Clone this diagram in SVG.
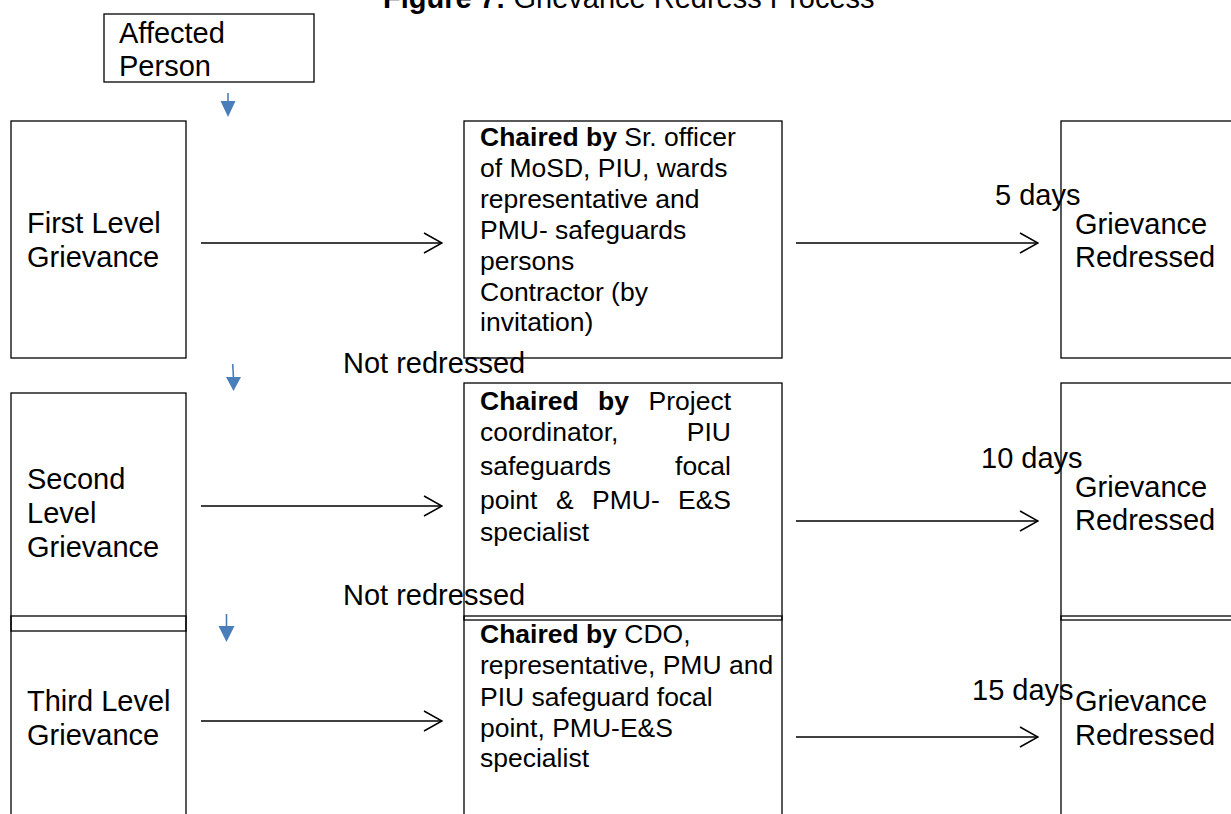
<svg xmlns="http://www.w3.org/2000/svg" width="1231" height="814" viewBox="0 0 1231 814">
<style>
  text { font-family: "Liberation Sans", Arial, sans-serif; fill: #000; }
  .t29 { font-size: 29px; }
  .t26 { font-size: 26.5px; }
  .b { font-weight: bold; }
  .box { fill: none; stroke: #000; stroke-width: 1.3; }
  .conn { stroke: #000; stroke-width: 1.5; fill: none; marker-end: url(#chev); }
  .blue { stroke: #4a7ebb; stroke-width: 1.6; fill: none; }
  .bluehead { fill: #4a7ebb; }
</style>
<defs>
  <marker id="chev" viewBox="0 0 20 22" refX="19" refY="11" markerWidth="20" markerHeight="22" markerUnits="userSpaceOnUse" orient="auto">
    <path d="M1,1 L19,11 L1,21" fill="none" stroke="#000" stroke-width="1.5"/>
  </marker>
</defs>
<rect x="0" y="0" width="1231" height="814" fill="#fff"/>

<g id="title">
  <text class="t29" x="383" y="8"><tspan class="b">Figure 7:</tspan> Grievance Redress Process</text>
</g>

<g id="affected-person">
  <rect class="box" x="104" y="14" width="210" height="68"/>
  <text class="t29" x="119" y="43">Affected</text>
  <text class="t29" x="119" y="76">Person</text>
</g>

<g id="first-level">
  <rect class="box" x="11" y="121" width="175" height="237"/>
  <text class="t29" x="27" y="233">First Level</text>
  <text class="t29" x="27" y="267">Grievance</text>
</g>

<g id="first-committee">
  <rect class="box" x="464" y="121" width="318" height="237"/>
  <text class="t26" x="480" y="146"><tspan class="b">Chaired by</tspan> Sr. officer</text>
  <text class="t26" x="480" y="177">of MoSD, PIU, wards</text>
  <text class="t26" x="480" y="208">representative and</text>
  <text class="t26" x="480" y="239">PMU- safeguards</text>
  <text class="t26" x="480" y="270">persons</text>
  <text class="t26" x="480" y="301">Contractor (by</text>
  <text class="t26" x="480" y="331">invitation)</text>
</g>

<g id="first-redressed">
  <rect class="box" x="1061" y="121" width="190" height="237"/>
  <text class="t29" x="1075" y="234">Grievance</text>
  <text class="t29" x="1075" y="267">Redressed</text>
</g>

<g id="second-level">
  <rect class="box" x="11" y="393" width="175" height="238"/>
  <text class="t29" x="27" y="489">Second</text>
  <text class="t29" x="27" y="523">Level</text>
  <text class="t29" x="27" y="557">Grievance</text>
</g>

<g id="second-committee">
  <rect class="box" x="464" y="383" width="318" height="237"/>
  <text class="t26 b" x="480" y="410">Chaired</text>
  <text class="t26 b" x="598" y="410">by</text>
  <text class="t26" x="731" y="410" text-anchor="end">Project</text>
  <text class="t26" x="480" y="441">coordinator,</text>
  <text class="t26" x="731" y="441" text-anchor="end">PIU</text>
  <text class="t26" x="480" y="475">safeguards</text>
  <text class="t26" x="731" y="475" text-anchor="end">focal</text>
  <text class="t26" x="480" y="509">point</text>
  <text class="t26" x="556" y="509">&amp;</text>
  <text class="t26" x="592" y="509">PMU-</text>
  <text class="t26" x="731" y="509" text-anchor="end">E&amp;S</text>
  <text class="t26" x="480" y="541">specialist</text>
</g>

<g id="second-redressed">
  <rect class="box" x="1061" y="383" width="190" height="237"/>
  <text class="t29" x="1075" y="497">Grievance</text>
  <text class="t29" x="1075" y="530">Redressed</text>
</g>

<g id="third-level">
  <rect class="box" x="11" y="616" width="175" height="220"/>
  <text class="t29" x="27" y="711">Third Level</text>
  <text class="t29" x="27" y="745">Grievance</text>
</g>

<g id="third-committee">
  <rect class="box" x="464" y="616" width="318" height="220"/>
  <text class="t26" x="480" y="643"><tspan class="b">Chaired by</tspan> CDO,</text>
  <text class="t26" x="480" y="674">representative, PMU and</text>
  <text class="t26" x="480" y="706">PIU safeguard focal</text>
  <text class="t26" x="480" y="737">point, PMU-E&amp;S</text>
  <text class="t26" x="480" y="767">specialist</text>
</g>

<g id="third-redressed">
  <rect class="box" x="1061" y="616" width="190" height="220"/>
  <text class="t29" x="1075" y="711">Grievance</text>
  <text class="t29" x="1075" y="745">Redressed</text>
</g>

<g id="connectors">
  <line class="conn" x1="201" y1="243" x2="442" y2="243"/>
  <line class="conn" x1="796" y1="243" x2="1038" y2="243"/>
  <line class="conn" x1="201" y1="506" x2="442" y2="506"/>
  <line class="conn" x1="796" y1="521" x2="1038" y2="521"/>
  <line class="conn" x1="201" y1="721" x2="442" y2="721"/>
  <line class="conn" x1="796" y1="737" x2="1038" y2="737"/>

  <line class="blue" x1="228" y1="93" x2="228" y2="102"/>
  <polygon class="bluehead" points="220.5,101 235.5,101 228,117"/>
  <line class="blue" x1="232.7" y1="364" x2="233.5" y2="378"/>
  <polygon class="bluehead" points="226,377 241,377 233.5,391"/>
  <line class="blue" x1="226.5" y1="614" x2="226.5" y2="627"/>
  <polygon class="bluehead" points="218.5,626 234.5,626 226.5,642"/>

  <text class="t29" x="995" y="205">5 days</text>
  <text class="t29" x="343" y="373">Not redressed</text>
  <text class="t29" x="981" y="468">10 days</text>
  <text class="t29" x="343" y="605">Not redressed</text>
  <text class="t29" x="972" y="700">15 days</text>
</g>
</svg>
